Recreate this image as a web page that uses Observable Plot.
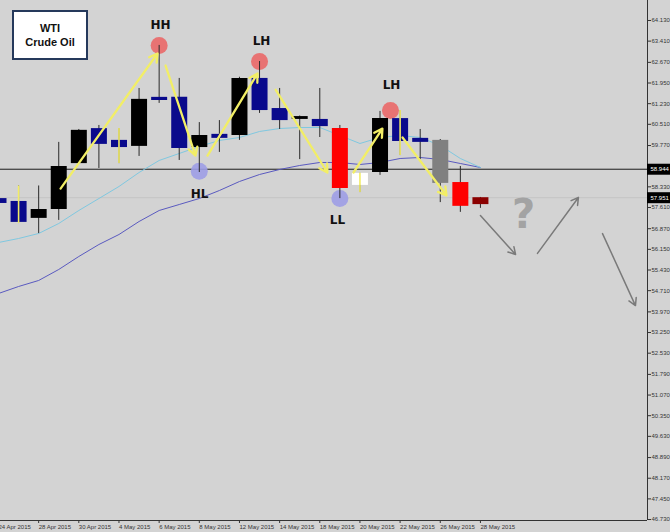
<!DOCTYPE html>
<html><head><meta charset="utf-8">
<script src="https://cdn.jsdelivr.net/npm/d3@7"></script>
<script src="https://cdn.jsdelivr.net/npm/@observablehq/plot@0.6"></script>
<style>
html,body{margin:0;padding:0;background:#d3d3d3;}
#wrap{position:relative;width:670px;height:532px;overflow:hidden;}
#title{position:absolute;left:12px;top:10px;width:72px;height:46px;background:#fff;border:2px solid #25395b;font:bold 11px "Liberation Sans",Arial,sans-serif;color:#111;text-align:center;display:flex;flex-direction:column;justify-content:center;line-height:14px;}
</style></head><body>
<div id="wrap"><div id="title"><div>WTI</div><div>Crude Oil</div></div></div>
<script>
// ---- data ----
const dates = ["24 Apr 2015","27 Apr 2015","28 Apr 2015","29 Apr 2015","30 Apr 2015","1 May 2015","4 May 2015","5 May 2015","6 May 2015","7 May 2015","8 May 2015","11 May 2015","12 May 2015","13 May 2015","14 May 2015","15 May 2015","18 May 2015","19 May 2015","20 May 2015","21 May 2015","22 May 2015","25 May 2015","26 May 2015","27 May 2015","28 May 2015"];
const opens  = [57.92,57.82,57.23,57.54,59.14,60.36,59.95,59.74,61.45,61.45,59.70,60.16,60.12,62.11,61.06,60.68,60.68,60.36,58.38,58.83,60.71,60.02,59.95,58.48,57.71];
const highs  = [58.05,58.36,58.36,59.88,60.33,60.47,60.36,61.76,63.26,62.11,60.57,60.64,62.15,62.70,61.76,60.80,61.76,60.47,58.80,60.96,60.99,60.33,59.98,59.04,57.96];
const lows   = [57.65,57.05,56.70,57.16,59.11,58.97,59.14,59.39,61.24,59.25,58.83,59.53,59.95,60.89,60.33,59.28,60.05,57.92,58.13,58.73,59.42,59.28,57.78,57.44,57.58];
const closes = [57.75,57.09,57.54,59.04,60.30,59.81,59.70,61.38,61.34,59.67,60.12,60.02,62.11,60.99,60.64,60.78,60.43,58.27,58.80,60.71,59.91,59.88,58.45,57.65,57.951];
const kinds  = ["bear","bear","bull","bull","bull","bear","bear","bull","bear","bear","bull","bear","bull","bear","bear","bull","bear","red","white","bull","bear","bear","gray","red","current"];
const markedDays = [1, 6, 18, 20];
const maFast = [56.389,56.529,56.703,57.052,57.505,57.923,58.342,58.830,59.249,59.493,59.737,59.946,60.051,60.260,60.364,60.399,60.399,60.120,59.841,60.051,60.120,60.051,59.772,59.318,59.004];
const maSlow = [54.611,54.855,55.065,55.448,55.901,56.319,56.668,57.121,57.505,57.714,57.923,58.202,58.516,58.760,58.935,59.074,59.179,59.179,59.109,59.179,59.318,59.353,59.284,59.144,59.004];
const yTicks = [64.130,63.410,62.670,61.950,61.230,60.510,59.770,58.330,57.610,56.870,56.150,55.430,54.710,53.970,53.250,52.530,51.790,51.070,50.350,49.630,48.890,48.170,47.450,46.730];
const xTicks = [0,2,4,6,8,10,12,14,16,18,20,22,24];
const levelPrice = 58.944;
const currentPrice = 57.951;
const pivotNames = ["HH","HL","LH","LL","LH"];
const pivotKinds = ["high","low","high","low","high"];
const pivotX = [8, 10, 13, 17, 19.52];
const pivotY = [63.26, 58.87, 62.70, 57.92, 60.99];
const labelX = [8.07, 10.01, 13.10, 16.88, 19.57];
const labelY = [63.97, 58.06, 63.415, 57.17, 61.88];
const yArrowX1 = [3.09, 8.32, 10.41, 13.80, 17.68, 20.12];
const yArrowY1 = [58.27, 62.56, 59.42, 61.72, 58.83, 60.05];
const yArrowX2 = [7.92, 9.81, 12.90, 16.38, 19.12, 22.31];
const yArrowY2 = [62.98, 59.42, 62.28, 58.83, 60.36, 58.03];
const gArrowX1 = [24.00, 26.84, 30.08];
const gArrowY1 = [57.33, 56.01, 56.70];
const gArrowX2 = [25.75, 28.88, 31.72];
const gArrowY2 = [55.97, 57.96, 54.19];
const questionX = 26.15, questionY = 57.33;

// ---- tables ----
const candles = dates.map((date, i) => ({i, date, open: opens[i], high: highs[i], low: lows[i], close: closes[i], kind: kinds[i]}));
const maRows = dates.map((d, i) => ({i, fast: maFast[i], slow: maSlow[i]}));
const pivots = pivotNames.map((name, k) => ({name, kind: pivotKinds[k], x: pivotX[k], y: pivotY[k], lx: labelX[k], ly: labelY[k]}));
const yArrows = yArrowX1.map((x, k) => ({x1: x, y1: yArrowY1[k], x2: yArrowX2[k], y2: yArrowY2[k]}));
const gArrows = gArrowX1.map((x, k) => ({x1: x, y1: gArrowY1[k], x2: gArrowX2[k], y2: gArrowY2[k]}));
const bodyColor = {bull: "#000000", bear: "#0a0a8c", red: "#ff0000", white: "#ffffff", gray: "#808080", current: "#8b0000"};

const X0 = 0.0996, X1 = 32.32;
const Y0 = 46.696, Y1 = 64.827;

const chart = Plot.plot({
  width: 670, height: 532,
  marginLeft: 0, marginRight: 23, marginTop: 0, marginBottom: 12,
  x: {type: "linear", domain: [X0, X1], axis: null},
  y: {type: "linear", domain: [Y0, Y1], axis: null},
  style: {background: "#d3d3d3", fontFamily: "'Liberation Sans', Arial, sans-serif", overflow: "visible"},
  marks: [
    Plot.ruleY([currentPrice], {stroke: "#c4c4c4", strokeWidth: 1}),
    Plot.ruleY([levelPrice], {stroke: "#1a1a1a", strokeWidth: 1}),
    Plot.line(maRows, {x: "i", y: "slow", stroke: "#5a5ac0", strokeWidth: 1, clip: true}),
    Plot.line(maRows, {x: "i", y: "fast", stroke: "#80c8e0", strokeWidth: 1, clip: true}),
    Plot.dot(pivots, {x: "x", y: "y", r: 8.5, fill: d => d.kind === "high" ? "#ea6868" : "#9d9de6", fillOpacity: 0.9, stroke: "none"}),
    Plot.ruleX(candles, {x: "i", y1: "low", y2: "high", stroke: "#2a2a2a", strokeWidth: 1, clip: true}),
    Plot.ruleX(candles, {x: "i", y1: "open", y2: "close", stroke: d => bodyColor[d.kind], strokeWidth: 16, clip: true}),
    Plot.ruleX(candles.filter(d => markedDays.includes(d.i)), {x: "i", y1: "low", y2: "high", stroke: "#f2ec66", strokeWidth: 1.6}),
    Plot.arrow(yArrows, {x1: "x1", y1: "y1", x2: "x2", y2: "y2", stroke: "#f2ee66", strokeWidth: 2.3, headLength: 6}),
    Plot.arrow(gArrows, {x1: "x1", y1: "y1", x2: "x2", y2: "y2", stroke: "#7a7a7a", strokeWidth: 1.5, headLength: 8}),
    Plot.text(["?"], {x: () => questionX, y: () => questionY, text: d => d, fontSize: 40, fontWeight: "bold", fontFamily: "DejaVu Sans", fill: "#a3a3a3"}),
    Plot.text(pivots, {x: "lx", y: "ly", text: "name", fontSize: 12, fontWeight: "bold", fontFamily: "DejaVu Sans", fill: "#111"}),
    Plot.ruleY([Y0], {stroke: "#333", strokeWidth: 1}),
    Plot.ruleX([X1], {stroke: "#333", strokeWidth: 1}),
    Plot.axisX(xTicks, {anchor: "bottom", tickSize: 3, tickPadding: 1, tickFormat: i => dates[i], textAnchor: "start", fontSize: 6, color: "#333"}),
    Plot.axisY(yTicks, {anchor: "right", tickSize: 3, tickPadding: 1, tickFormat: d => d.toFixed(3), fontSize: 6, color: "#333"}),
    Plot.ruleY([levelPrice, currentPrice], {x1: () => X1, x2: () => X1 + 1.2, y: d => d, stroke: "#000", strokeWidth: 11}),
    Plot.text([levelPrice, currentPrice], {x: () => X1, y: d => d, text: d => d.toFixed(3), textAnchor: "start", dx: 3, fill: "#fff", fontSize: 6})
  ]
});
const wrap = document.getElementById("wrap");
wrap.insertBefore(chart, document.getElementById("title"));
</script>
</body></html>
